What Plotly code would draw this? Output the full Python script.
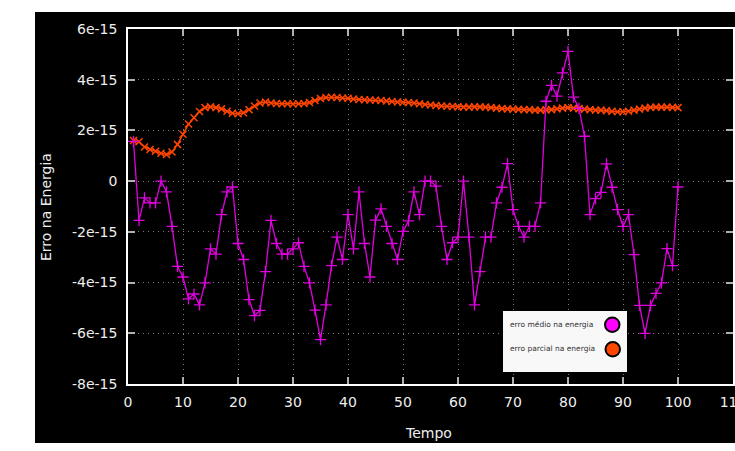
import plotly.graph_objects as go

# time steps
tempo = list(range(1, 101))

# erro médio na energia (units of 1e-15)
erro_medio = [
    1.57, -1.55, -0.66, -0.86, -0.86, 0.0, -0.42, -1.78, -3.36, -3.78,
    -4.64, -4.45, -4.88, -4.01, -2.67, -2.88, -1.32, -0.42, -0.23, -2.46,
    -3.09, -4.67, -5.30, -5.10, -3.57, -1.55, -2.46, -2.88, -2.88, -2.67,
    -2.43, -3.36, -4.01, -5.09, -6.25, -4.88, -3.33, -2.21, -3.09, -1.32,
    -2.67, -0.42, -2.46, -3.78, -1.54, -1.09, -1.78, -2.46, -3.09, -1.98,
    -1.57, -0.42, -1.32, 0.0, 0.0, -0.2, -1.78, -3.09, -2.43, -2.21,
    0.0, -2.21, -4.88, -3.57, -2.21, -2.21, -0.86, -0.24, 0.69, -1.12,
    -1.78, -2.21, -1.78, -1.78, -0.86, 3.15, 3.78, 3.35, 4.27, 5.12,
    3.31, 2.87, 1.77, -1.32, -0.69, -0.44, 0.68, -0.24, -1.12, -1.78,
    -1.32, -2.9, -4.9, -6.0, -4.9, -4.43, -4.01, -2.66, -3.33, -0.23,
]

# erro parcial na energia (units of 1e-15)
erro_parcial = [
    1.60, 1.55, 1.35, 1.25, 1.18, 1.10, 1.05, 1.15, 1.45, 1.85,
    2.25, 2.50, 2.75, 2.90, 2.93, 2.90, 2.85, 2.76, 2.68, 2.66,
    2.70, 2.82, 2.96, 3.08, 3.12, 3.08, 3.06, 3.05, 3.05, 3.04,
    3.05, 3.06, 3.10, 3.18, 3.26, 3.30, 3.31, 3.30, 3.28, 3.27,
    3.24, 3.22, 3.21, 3.20, 3.19, 3.18, 3.16, 3.14, 3.12, 3.11,
    3.10, 3.08, 3.05, 3.02, 3.00, 2.98, 2.96, 2.95, 2.94, 2.93,
    2.92, 2.92, 2.93, 2.93, 2.92, 2.90, 2.88, 2.86, 2.85, 2.84,
    2.83, 2.82, 2.82, 2.80, 2.80, 2.81, 2.82, 2.85, 2.88, 2.90,
    2.88, 2.86, 2.84, 2.82, 2.80, 2.80, 2.78, 2.76, 2.74, 2.74,
    2.76, 2.80, 2.84, 2.88, 2.91, 2.92, 2.92, 2.92, 2.91, 2.90,
]

x_ticks = list(range(0, 111, 10))
y_tick_vals = [-8, -6, -4, -2, 0, 2, 4, 6]
y_tick_text = ["-8e-15", "-6e-15", "-4e-15", "-2e-15", "0", "2e-15", "4e-15", "6e-15"]

series_names = ["erro médio na energia", "erro parcial na energia"]
magenta = "#e000e0"
orange = "#ff4500"
font_family = "DejaVu Sans"
text_col = "#eeeeee"

fig = go.Figure()
fig.add_trace(go.Scatter(
    x=tempo, y=[v * 1e-15 for v in erro_parcial], mode="lines+markers",
    name=series_names[1], showlegend=False,
    line=dict(color=orange, width=1.5),
    marker=dict(symbol="x-thin", size=7, line=dict(color=orange, width=1.5)),
))
fig.add_trace(go.Scatter(
    x=tempo, y=[v * 1e-15 for v in erro_medio], mode="lines+markers",
    name=series_names[0], showlegend=False,
    line=dict(color=magenta, width=1.3),
    marker=dict(symbol="cross-thin", size=8, line=dict(color=magenta, width=1.3)),
))

# plot area geometry (pixels) for paper-coordinate decorations
L, R, T, B = 128, 2, 29, 67
W, H = 735, 451
pw, ph = W - L - R, H - T - B

def px(xp):
    return (xp - L) / pw

def py(yp):
    return (H - B - yp) / ph

shapes = [
    dict(type="rect", xref="paper", yref="paper", x0=px(35), x1=px(740),
         y0=py(443), y1=py(12), fillcolor="black", line=dict(width=0), layer="below"),
    dict(type="rect", xref="paper", yref="paper", x0=px(503), x1=px(627),
         y0=py(372), y1=py(311), fillcolor="#f8f8f8", line=dict(width=0), layer="above"),
    dict(type="circle", xref="paper", yref="paper", x0=px(605), x1=px(619.5),
         y0=py(332), y1=py(317.5), fillcolor="#ff00ff", line=dict(color="black", width=2)),
    dict(type="circle", xref="paper", yref="paper", x0=px(605.5), x1=px(620),
         y0=py(356.5), y1=py(342), fillcolor=orange, line=dict(color="black", width=2)),
]

annotations = [
    dict(text=series_names[0], xref="paper", yref="paper", x=px(508), y=py(324.5),
         xanchor="left", yanchor="middle", showarrow=False,
         font=dict(family=font_family, size=7.5, color="#333333")),
    dict(text=series_names[1], xref="paper", yref="paper", x=px(508), y=py(348.5),
         xanchor="left", yanchor="middle", showarrow=False,
         font=dict(family=font_family, size=7.5, color="#333333")),
    dict(text="Tempo", xref="paper", yref="paper", x=px(428), y=py(433),
         xanchor="center", yanchor="middle", showarrow=False,
         font=dict(family=font_family, size=14, color=text_col)),
    dict(text="Erro na Energia", xref="paper", yref="paper", x=px(46), y=py(207),
         xanchor="center", yanchor="middle", showarrow=False, textangle=-90,
         font=dict(family=font_family, size=14, color=text_col)),
]

axis_common = dict(
    showline=True, linecolor="#ffffff", linewidth=1.5, mirror="allticks",
    ticks="inside", ticklen=7, tickwidth=1.5, tickcolor="#b0b0b0",
    showgrid=True, gridcolor="#7a7a7a", griddash="1px,4px", gridwidth=1.2,
    zeroline=False, tickfont=dict(family=font_family, size=14, color=text_col),
    ticklabeloverflow="allow", automargin=False,
)

fig.update_layout(
    width=W, height=H,
    margin=dict(l=L, r=R, t=T, b=B, pad=0, autoexpand=False),
    paper_bgcolor="white", plot_bgcolor="black",
    showlegend=False,
    shapes=shapes, annotations=annotations,
    xaxis=dict(range=[0, 110], tickvals=x_ticks, ticklabelstandoff=4, **axis_common),
    yaxis=dict(range=[-8e-15, 6e-15], tickvals=[v * 1e-15 for v in y_tick_vals],
               ticktext=y_tick_text, ticklabelstandoff=6, **axis_common),
)

fig.write_html("out.html")
